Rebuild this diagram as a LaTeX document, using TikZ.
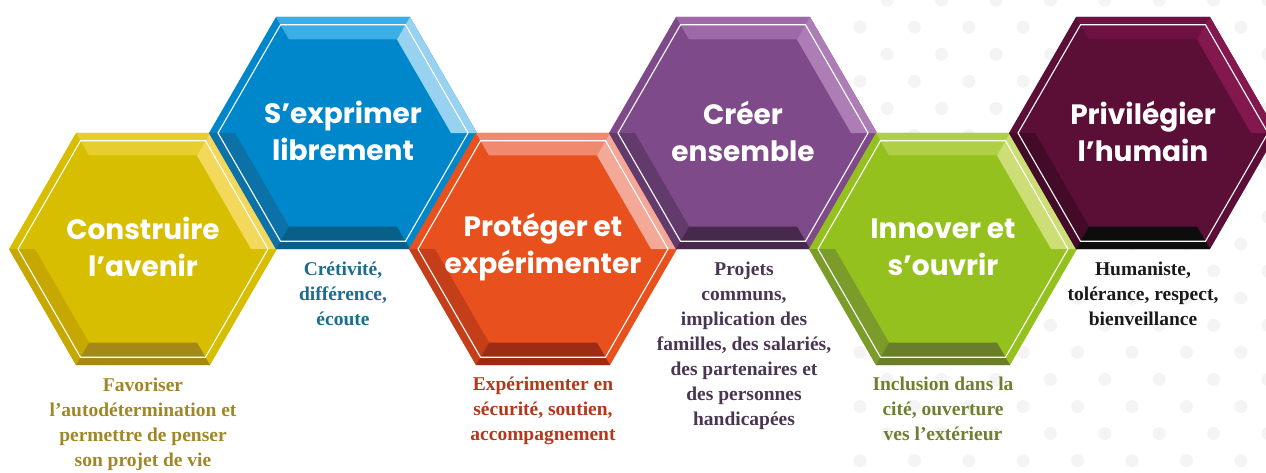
\documentclass[tikz,border=0pt]{standalone}
\usepackage{fontspec}
\setmainfont{Liberation Serif}
\newfontfamily\hexfont{Poppins}
\usepackage{tikz}

\definecolor{yelFace}{HTML}{D8BE00}
\definecolor{yelTop}{HTML}{E8CD2F}
\definecolor{yelLight}{HTML}{F2D85B}
\definecolor{yelShade}{HTML}{C7A701}
\definecolor{yelDark}{HTML}{A68817}
\definecolor{yelText}{HTML}{A08726}
\definecolor{bluFace}{HTML}{0086CA}
\definecolor{bluTop}{HTML}{3BAFE5}
\definecolor{bluLight}{HTML}{98D2F1}
\definecolor{bluShade}{HTML}{0B71A6}
\definecolor{bluDark}{HTML}{085F88}
\definecolor{bluText}{HTML}{1D6C8C}
\definecolor{oraFace}{HTML}{E8501D}
\definecolor{oraTop}{HTML}{EF8A70}
\definecolor{oraLight}{HTML}{F3A898}
\definecolor{oraShade}{HTML}{C43F19}
\definecolor{oraDark}{HTML}{9E2C14}
\definecolor{oraText}{HTML}{B5371C}
\definecolor{purFace}{HTML}{7E4A89}
\definecolor{purTop}{HTML}{9F69A8}
\definecolor{purLight}{HTML}{AD7EB5}
\definecolor{purShade}{HTML}{633A6C}
\definecolor{purDark}{HTML}{46294D}
\definecolor{purText}{HTML}{4A3552}
\definecolor{grnFace}{HTML}{95C11F}
\definecolor{grnTop}{HTML}{AFCF44}
\definecolor{grnLight}{HTML}{CDDE77}
\definecolor{grnShade}{HTML}{7B9B2B}
\definecolor{grnDark}{HTML}{6A7D2A}
\definecolor{grnText}{HTML}{6E8030}
\definecolor{marFace}{HTML}{5B0E36}
\definecolor{marTop}{HTML}{6E1142}
\definecolor{marLight}{HTML}{83184F}
\definecolor{marShade}{HTML}{430B28}
\definecolor{marDark}{HTML}{0D0D0D}
\definecolor{marText}{HTML}{1A1A1A}
\definecolor{dotgrey}{HTML}{F4F4F4}

% bevelled hexagon: #1 centre, #2 colour prefix
\newcommand{\hexcell}[2]{%
  \begin{scope}[shift={#1}]
    \fill[#2Face] (0:134) -- (60:134) -- (120:134) -- (180:134) -- (240:134) -- (300:134) -- cycle;
    \fill[#2Top] (60:134) -- (120:134) -- (120:108) -- (60:108) -- cycle;
    \fill[#2Light] (0:134) -- (60:134) -- (60:108) -- (0:108) -- cycle;
    \fill[#2Shade] (180:134) -- (240:134) -- (240:108) -- (180:108) -- cycle;
    \fill[#2Dark] (240:134) -- (300:134) -- (300:108) -- (240:108) -- cycle;
    \draw[white, line width=1.1pt, line join=miter]
      (0:125) -- (60:125) -- (120:125) -- (180:125) -- (240:125) -- (300:125) -- cycle;
  \end{scope}}

\begin{document}
\begin{tikzpicture}[x=1pt, y=1pt,
    title/.style={font=\hexfont\bfseries\fontsize{28}{37}\selectfont, text=white,
      align=center, inner sep=0pt},
    blurb/.style={font=\bfseries\fontsize{19.5}{25}\selectfont, align=center,
      inner sep=0pt, anchor=north, execute at begin node={\rule{0pt}{15pt}}}]

  \useasboundingbox (0,0) rectangle (1266,-472);

  % dotted background
  \begin{scope}
    \clip (850,0) rectangle (1266,-472);
    \foreach \j in {0,...,17}
      \foreach \i in {0,...,8}
        \fill[dotgrey] ({860 + 27.2*mod(\j+1,2) + 54.4*\i}, {-27.1*\j}) circle (6.5);
  \end{scope}

  \hexcell{(143,-249)}{yel}
  \hexcell{(343,-133)}{blu}
  \hexcell{(543,-249)}{ora}
  \hexcell{(743,-133)}{pur}
  \hexcell{(943,-249)}{grn}
  \hexcell{(1143,-133)}{mar}

  \node[title] (h_1) at (143,-247) {Construire\\l’avenir};
  \node[title] (h_2) at (343,-131) {S’exprimer\\librement};
  \node[title] (h_3) at (543,-247) {Protéger et\\expérimenter};
  \node[title] (h_4) at (743,-131) {Créer\\ensemble};
  \node[title] (h_5) at (943,-247) {Innover et\\s’ouvrir};
  \node[title] (h_6) at (1143,-131) {Privilégier\\l’humain};

  \node[blurb, text=yelText] (c_1) at (143,-378)
    {Favoriser\\l’autodétermination et\\permettre de penser\\son projet de vie};
  \node[blurb, text=bluText] (c_2) at (343,-262)
    {Crétivité,\\différence,\\écoute};
  \node[blurb, text=oraText] (c_3) at (543,-377)
    {Expérimenter en\\sécurité, soutien,\\accompagnement};
  \node[blurb, text=purText] (c_4) at (744,-262)
    {Projets\\communs,\\implication des\\familles, des salariés,\\des partenaires et\\des personnes\\handicapées};
  \node[blurb, text=grnText] (c_5) at (943,-377)
    {Inclusion dans la\\cité, ouverture\\ves l’extérieur};
  \node[blurb, text=marText] (c_6) at (1143,-262)
    {Humaniste,\\tolérance, respect,\\bienveillance};
\end{tikzpicture}
\end{document}
